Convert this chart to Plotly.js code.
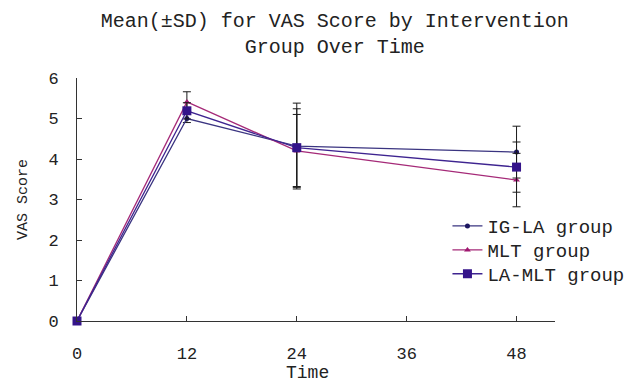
<!DOCTYPE html>
<html>
<head>
<meta charset="utf-8">
<script src="https://cdn.plot.ly/plotly-3.0.1.min.js"></script>
<style>html,body{margin:0;padding:0;background:#fff;}</style>
</head>
<body>
<div id="chart" style="width:634px;height:383px;"></div>
<script>
// Data
const timePoints = [0, 12, 24, 48];
const xTickVals = [0, 12, 24, 36, 48];
const yTickVals = [0, 1, 2, 3, 4, 5, 6];
const seriesNames = ["IG-LA group", "MLT group", "LA-MLT group"];
const igLaMean = [0, 5.00, 4.32, 4.17];
const igLaSD = [0, 0.10, 1.06, 0.64];
const mltMean = [0, 5.41, 4.20, 3.48];
const mltSD = [0, 0.25, 0.90, 0.66];
const laMltMean = [0, 5.19, 4.28, 3.80];
const laMltSD = [0, 0.20, 0.96, 0.62];

const mono = "Liberation Mono, monospace";
const errStyle = (arr) => ({type: "data", array: arr, visible: true, color: "#1a1a1a", thickness: 1, width: 4});

const traces = [
  {x: timePoints, y: igLaMean, name: seriesNames[0], type: "scatter", mode: "lines+markers",
   line: {color: "#3a3480", width: 1.3}, marker: {symbol: "circle", size: 5, color: "#1c1660"},
   error_y: errStyle(igLaSD), cliponaxis: false, legend: "legend"},
  {x: timePoints, y: mltMean, name: seriesNames[1], type: "scatter", mode: "lines+markers",
   line: {color: "#a52a78", width: 1.3}, marker: {symbol: "triangle-up", size: 6, color: "#a01870"},
   error_y: errStyle(mltSD), cliponaxis: false, legend: "legend2"},
  {x: timePoints, y: laMltMean, name: seriesNames[2], type: "scatter", mode: "lines+markers",
   line: {color: "#3e2490", width: 1.3}, marker: {symbol: "square", size: 9, color: "#34148a"},
   error_y: errStyle(laMltSD), cliponaxis: false, legend: "legend3"}
];

const legendBase = (y) => ({x: 0.775, xanchor: "left", y: y, yanchor: "top",
  font: {family: mono, size: 19, color: "#222"}, bgcolor: "rgba(0,0,0,0)"});

const layout = {
  width: 634, height: 383,
  margin: {l: 77, r: 79, t: 78, b: 62, autoexpand: false},
  paper_bgcolor: "#fff", plot_bgcolor: "#fff",
  font: {family: mono, color: "#222"},
  title: {text: "Mean(±SD) for VAS Score by Intervention<br>Group Over Time",
          font: {family: mono, size: 20, color: "#222"},
          x: 0.528, xanchor: "center", y: 0.929, yanchor: "top", yref: "container"},
  xaxis: {range: [0, 52.2], tickvals: xTickVals, ticktext: xTickVals.map(String),
          showline: true, linecolor: "#333", linewidth: 1, showgrid: false, zeroline: false,
          ticks: "inside", ticklen: 5, tickcolor: "#333", ticklabelstandoff: 17,
          tickfont: {family: mono, size: 17, color: "#222"}},
  yaxis: {range: [0, 6], tickvals: yTickVals, ticktext: yTickVals.map(String),
          showline: true, linecolor: "#333", linewidth: 1, showgrid: false, zeroline: false,
          ticks: "inside", ticklen: 5, tickcolor: "#333", ticklabelstandoff: 14,
          tickfont: {family: mono, size: 17, color: "#222"},
          title: {text: "VAS Score", font: {family: mono, size: 15, color: "#222"}, standoff: 17}},
  annotations: [{text: "Time", xref: "paper", yref: "paper", x: 0.483, y: -0.214,
                 xanchor: "center", yanchor: "middle", showarrow: false,
                 font: {family: mono, size: 18, color: "#222"}}],
  legend: legendBase(0.469),
  legend2: legendBase(0.370),
  legend3: legendBase(0.272),
  showlegend: true
};

Plotly.newPlot("chart", traces, layout, {staticPlot: true, displayModeBar: false});
</script>
</body>
</html>
